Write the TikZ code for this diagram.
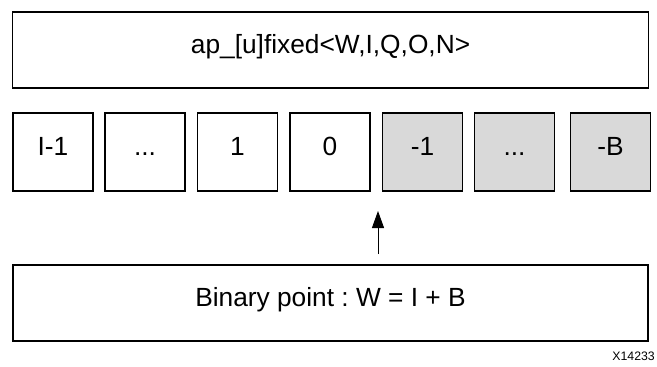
\documentclass[tikz,border=0pt]{standalone}
\usepackage{fontspec}
\setmainfont{Liberation Sans}
\usetikzlibrary{arrows.meta}
\definecolor{cellgray}{RGB}{217,217,217}
\frenchspacing
\tikzset{
  box/.style={draw=black, line width=1.8pt, rectangle, inner sep=0pt,
    font=\fontsize{26.3}{30}\selectfont, text height=0.72em, text depth=0pt},
  bitcell/.style={box, minimum width=80pt, minimum height=78pt},
  fraccell/.style={bitcell, fill=cellgray},
  widebox/.style={box, minimum width=636pt, minimum height=76pt},
  pointer/.style={line width=1pt, -{Triangle[width=12pt,length=17pt]}}
}
\begin{document}
\begin{tikzpicture}[x=1pt,y=-1pt]
\useasboundingbox (0,0) rectangle (657,367);
\node[widebox] (type) at (330.5,50) {ap\_[u]fixed<W,I,Q,O,N>};
\node[bitcell] (c1) at (53,152) {I-1};
\node[bitcell] (c2) at (145,152) {...};
\node[bitcell] (c3) at (237.5,152) {1};
\node[bitcell] (c4) at (330,152) {0};
\node[fraccell] (c5) at (422.5,152) {-1};
\node[fraccell] (c6) at (514.5,152) {...};
\node[fraccell] (c7) at (610.5,152) {-B};
\node[widebox, minimum width=635pt] (bp) at (330.5,303) {Binary point : W = I + B};
\coordinate (ptail) at (378,254);
\coordinate (phead) at (378,211);
\draw[pointer] (ptail) -- (phead);
\node[anchor=base east, inner sep=0pt, font=\fontsize{12.3}{14}\selectfont] (fig) at (655,360) {X14233};
\end{tikzpicture}
\end{document}
